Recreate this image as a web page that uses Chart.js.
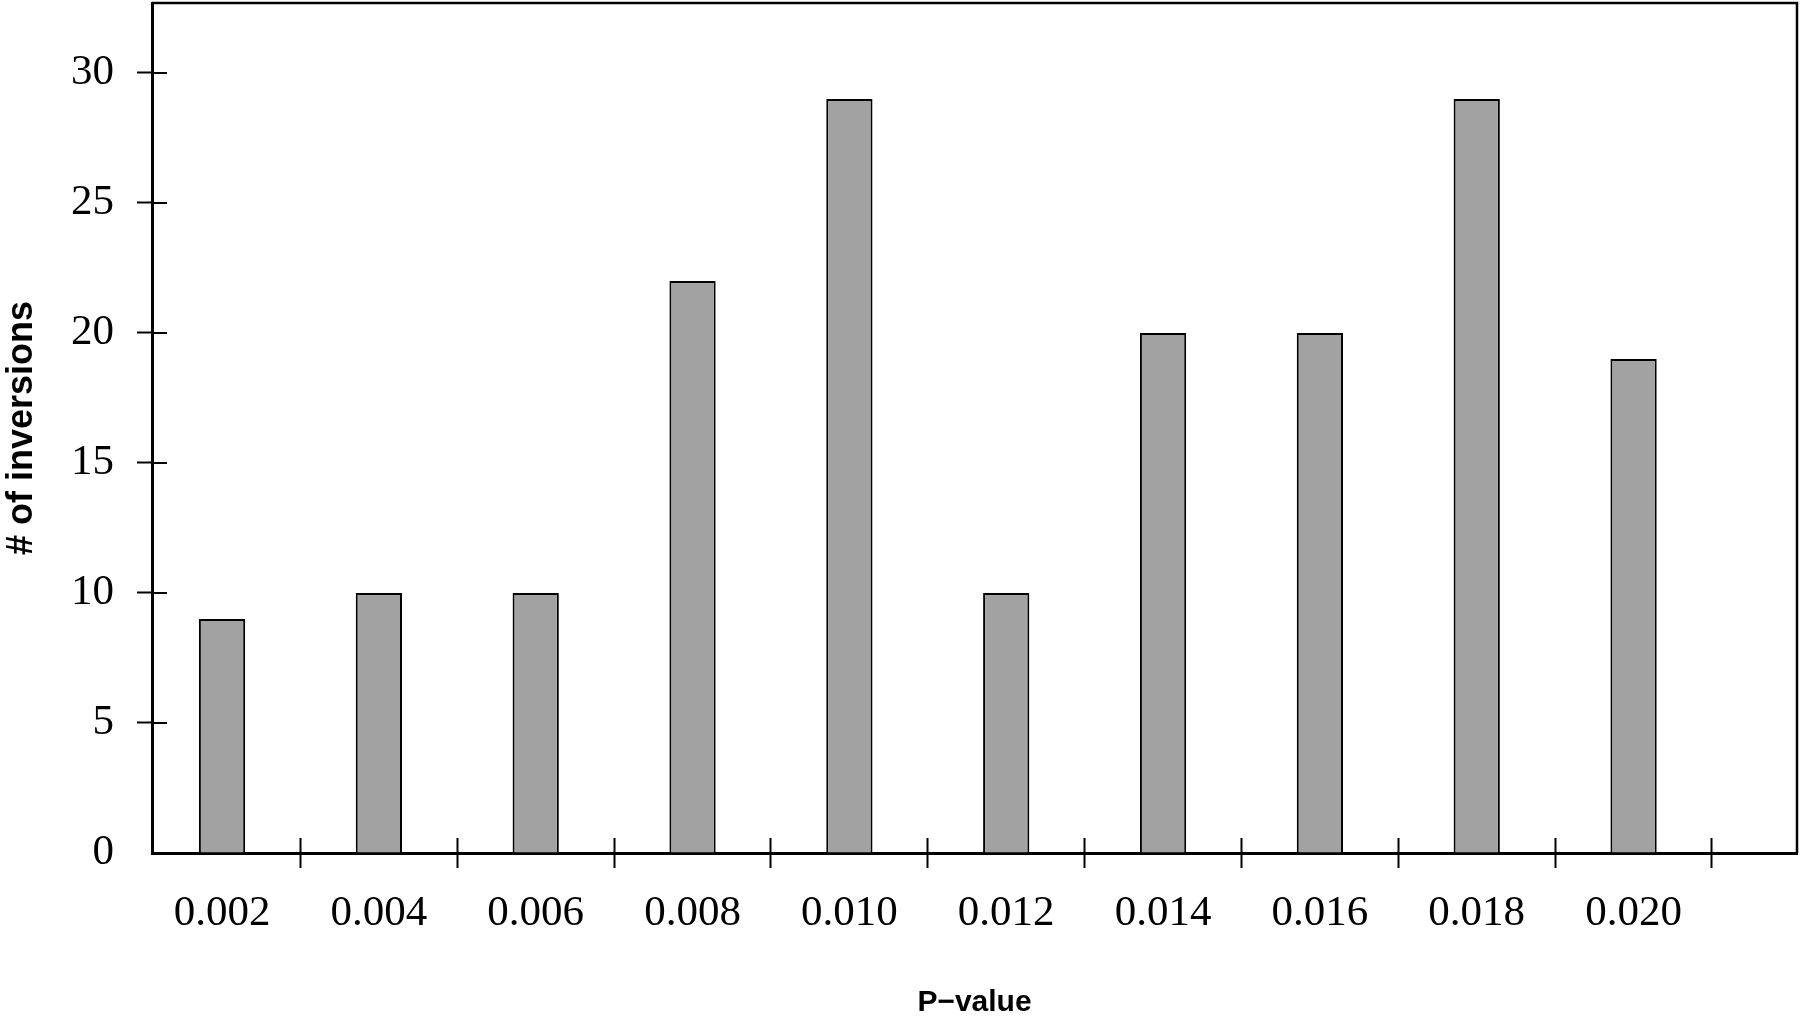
<!DOCTYPE html>
<html lang="en">
<head>
  <meta charset="UTF-8">
  <title>P-value histogram</title>
  <style>
    body {
      margin: 0;
      padding: 0;
      background: #ffffff;
    }
    .chart-box {
      width: 1800px;
      height: 1021px;
      position: relative;
    }
  </style>
</head>
<body>
  <div class="chart-box">
    <canvas id="pvalChart"></canvas>
  </div>

  <script src="https://cdn.jsdelivr.net/npm/chart.js"></script>
  <script>
    // values
    const pValues = [0.002, 0.004, 0.006, 0.008, 0.010, 0.012, 0.014, 0.016, 0.018, 0.020];
    const inversions = [9, 10, 10, 22, 29, 10, 20, 20, 29, 19];
    const yTicks = [0, 5, 10, 15, 20, 25, 30];

    const TICK = 15;

    // frame round the plot + the inner half of the tick marks
    const frameAndTicks = {
      id: 'frameAndTicks',
      afterDraw(chart) {
        const ctx = chart.ctx;
        const area = chart.chartArea;
        ctx.save();
        ctx.strokeStyle = '#000';
        ctx.lineWidth = 2.5;
        ctx.beginPath();
        ctx.moveTo(area.left, area.top);
        ctx.lineTo(area.right, area.top);
        ctx.lineTo(area.right, area.bottom);
        ctx.stroke();

        ctx.lineWidth = 2;
        ctx.beginPath();
        const xs = chart.scales.x;
        (xs._gridLineItems || []).forEach(it => {
          ctx.moveTo(it.tx1, area.bottom);
          ctx.lineTo(it.tx1, area.bottom - TICK);
        });
        const ys = chart.scales.y;
        ys.ticks.forEach((t, i) => {
          if (t.value === 0) return;
          const py = ys.getPixelForTick(i);
          ctx.moveTo(area.left, py);
          ctx.lineTo(area.left + TICK, py);
        });
        ctx.stroke();
        ctx.restore();
      }
    };

    const ctx = document.getElementById('pvalChart').getContext('2d');
    const chart = new Chart(ctx, {
      type: 'bar',
      data: {
        datasets: [{
          label: '# of inversions',
          data: pValues.map((p, i) => ({ x: p, y: inversions[i] })),
          backgroundColor: '#a2a2a2',
          borderColor: '#000',
          borderWidth: 2,
          barPercentage: 0.295,
          categoryPercentage: 1
        }]
      },
      options: {
        responsive: true,
        maintainAspectRatio: false,
        animation: false,
        layout: { padding: { top: 3, right: 3, left: 0, bottom: 0 } },
        plugins: {
          legend: { display: false },
          tooltip: { enabled: false }
        },
        scales: {
          x: {
            type: 'linear',
            position: 'bottom',
            offset: false,
            min: 0.001107,
            max: 0.022084,
            afterBuildTicks: s => { s.ticks = pValues.map(v => ({ value: v })); },
            afterFit: s => { s.height = 168; },
            grid: {
              offset: true,
              drawOnChartArea: false,
              tickLength: TICK,
              tickWidth: 2,
              tickColor: '#000'
            },
            border: { display: true, color: '#000', width: 3 },
            ticks: {
              padding: 20,
              color: '#000',
              maxRotation: 0,
              autoSkip: false,
              font: { family: 'Liberation Serif', size: 43 },
              callback: v => v.toFixed(3)
            },
            title: {
              display: true,
              text: 'P−value',
              color: '#000',
              padding: { top: 0, bottom: 0 },
              font: { family: 'Liberation Sans', size: 30, weight: 'bold' }
            }
          },
          y: {
            min: 0,
            max: 32.69,
            afterBuildTicks: s => { s.ticks = yTicks.map(v => ({ value: v })); },
            afterFit: s => {
              s.width = 152;
              s.paddingTop = 0;
              s.paddingBottom = 0;
            },
            grid: {
              drawOnChartArea: false,
              tickLength: TICK,
              tickWidth: 2,
              tickColor: c => (c.tick && c.tick.value === 0) ? 'rgba(0,0,0,0)' : '#000'
            },
            border: { display: true, color: '#000', width: 3 },
            ticks: {
              padding: 23,
              color: '#000',
              font: { family: 'Liberation Serif', size: 43 }
            },
            title: {
              display: true,
              text: '# of inversions',
              color: '#000',
              padding: { top: 0, bottom: 0 },
              font: { family: 'Liberation Sans', size: 36, weight: 'bold' }
            }
          }
        }
      },
      plugins: [frameAndTicks]
    });
  </script>
</body>
</html>
